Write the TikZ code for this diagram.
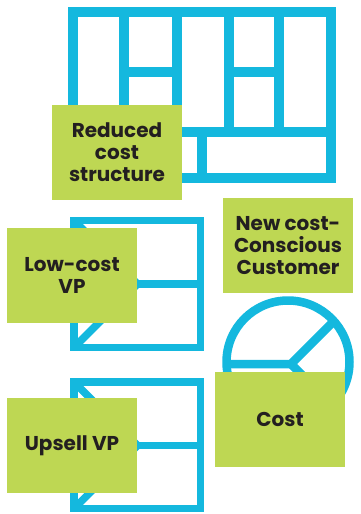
\documentclass[tikz,border=0pt]{standalone}
\usepackage{fontspec}
\setmainfont{Poppins}
\usetikzlibrary{positioning}

\definecolor{canvasblue}{RGB}{20,184,222}
\definecolor{notegreen}{RGB}{190,215,83}
\definecolor{notetext}{RGB}{35,31,32}

\begin{document}
\begin{tikzpicture}[
    x=1pt, y=-1pt,
    every node/.style={font=\fontsize{20}{22}\selectfont\bfseries, align=center, text=notetext},
    frame/.style={draw=canvasblue, line width=7.5pt},
    grid/.style={draw=canvasblue, line width=10pt},
    note/.style={
        fill=notegreen,
        minimum width=130pt,
        minimum height=95pt,
        inner sep=0pt
    }
]
\useasboundingbox (0,0) rectangle (360,514);

% business model canvas
\draw[grid] (73,12) rectangle (331,177.5);
\draw[grid] (124,12) -- (124,132);
\draw[grid] (177,12) -- (177,132);
\draw[grid] (228.5,12) -- (228.5,132);
\draw[grid] (278.5,12) -- (278.5,132);
\draw[grid] (124,72) -- (177,72);
\draw[grid] (228.5,72) -- (278.5,72);
\draw[grid] (73,132) -- (331,132);
\draw[grid] (202,132) -- (202,177.5);

% value maps
\draw[frame] (74,220.5) rectangle (200.5,347.5);
\draw[frame] (74,220.5) -- (137.5,284) -- (74,347.5);
\draw[frame] (137.5,284) -- (200.5,284);

\draw[frame] (74,382) rectangle (200.5,508.5);
\draw[frame] (74,382) -- (137.5,445.5) -- (74,508.5);
\draw[frame] (137.5,445.5) -- (200.5,445.5);

% customer profile
\draw[frame, line width=8.5pt] (288,362) circle (61.5);
\draw[frame, line width=8.5pt] (226.5,364) -- (291,364) -- (334,321);
\draw[frame, line width=8.5pt] (291,364) -- (334,407);

% notes
\node[note] (reduced) at (117,152.5) {Reduced\\cost\\structure};
\node[note] (newcust) at (288,245.5) {New cost-\\Conscious\\Customer};
\node[note] (lowvp) at (72,275.5) {Low-cost\\VP};
\node[note] (cost) at (280,419.5) {Cost};
\node[note] (upsell) at (72,445.5) {Upsell VP};
\end{tikzpicture}
\end{document}
